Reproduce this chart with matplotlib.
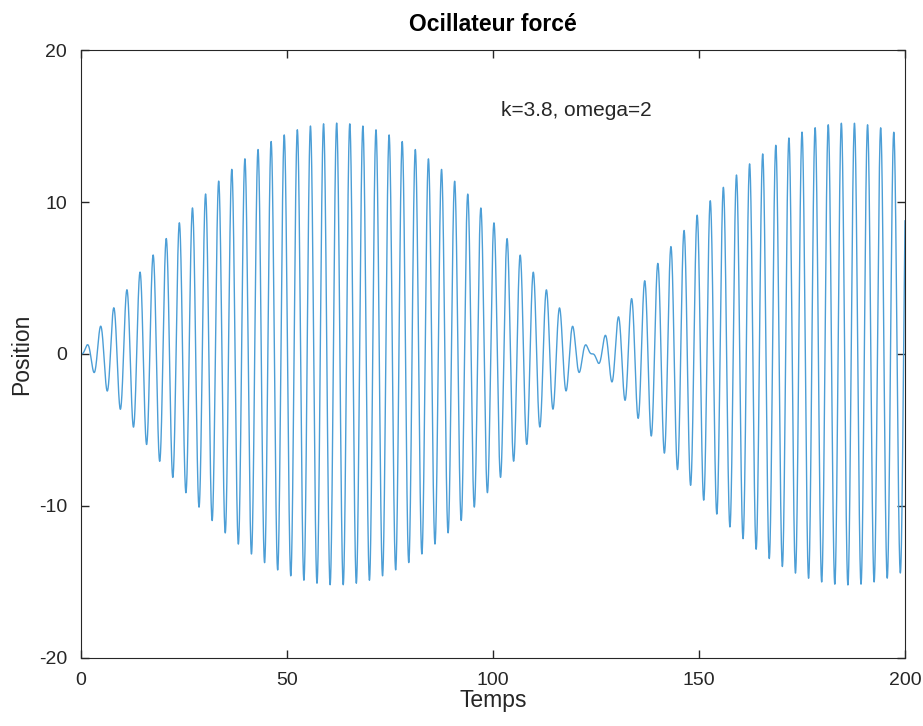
import numpy as np
import matplotlib
matplotlib.use("Agg")
import matplotlib.pyplot as plt

# Parameters
k = 3.8
omega = 2.0
F = 1.5          # forcing amplitude (envelope peak ~15)
t_end = 200.0

xticks = [0, 50, 100, 150, 200]
yticks = [-20, -10, 0, 10, 20]

# Forced undamped oscillator x'' + k x = F sin(omega t), x(0)=0, x'(0)=0
t = np.linspace(0, t_end, 20001)
w0 = np.sqrt(k)
x = F / (k - omega**2) * (np.sin(omega * t) - omega / w0 * np.sin(w0 * t))

plt.rcParams['font.family'] = ['Liberation Sans', 'DejaVu Sans']
plt.rcParams['axes.unicode_minus'] = False

fig = plt.figure(figsize=(9.23, 7.26), dpi=100)
ax = fig.add_axes([0.0878, 0.0937, 0.8927, 0.8374])
ax.plot(t, x, color='#4C9ED6', lw=1.0)

ax.set_xlim(0, 200)
ax.set_ylim(-20, 20)
ax.set_xticks(xticks)
ax.set_yticks(yticks)
ax.tick_params(direction='in', top=True, right=True, length=6, width=1,
               labelsize=14, colors='#262626', pad=10)
for s in ax.spines.values():
    s.set_color('#262626')
    s.set_linewidth(0.8)

ax.set_xlabel("Temps", fontsize=16.5, color='#262626', labelpad=0)
ax.set_ylabel("Position", fontsize=16.5, color='#262626', labelpad=4)
ax.set_title("Ocillateur forcé", fontsize=16.5, fontweight='bold', pad=14)
ax.text(102, 16, "k=3.8, omega=2", fontsize=15, color='#262626', va='center')

fig.savefig("out.png", dpi=100)
